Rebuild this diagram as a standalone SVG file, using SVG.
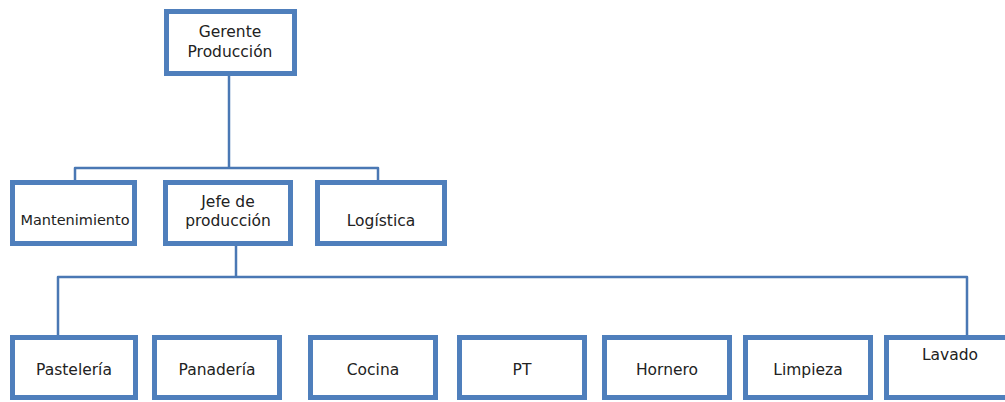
<svg xmlns="http://www.w3.org/2000/svg" width="1005" height="402" viewBox="0 0 1005 402">
  <style>
    .box { fill: #ffffff; stroke: #4f7fbc; stroke-width: 5; }
    .lbl { font-family: "DejaVu Sans", "Open Sans", sans-serif; font-size: 15.5px; fill: #222222; text-anchor: middle; }
    .conn { fill: none; stroke: #4a78b4; stroke-width: 2.5; stroke-linejoin: round; }
  </style>
  <rect width="1005" height="402" fill="#ffffff"/>

  <!-- connectors -->
  <g id="connectors">
    <path class="conn" d="M229 76 V168"/>
    <path class="conn" d="M75 180 V168 H378 V180"/>
    <path class="conn" d="M236 246 V277"/>
    <path class="conn" d="M58 335 V277 H967 V335"/>
  </g>

  <g id="gerente">
    <rect class="box" x="166.5" y="11.5" width="128" height="62"/>
    <text class="lbl" x="230" y="37">Gerente</text>
    <text class="lbl" x="230" y="57">Producción</text>
  </g>

  <g id="mantenimiento">
    <rect class="box" x="12.5" y="182.5" width="122" height="61"/>
    <text class="lbl" x="75" y="225" style="font-size:14.5px">Mantenimiento</text>
  </g>
  <g id="jefe">
    <rect class="box" x="165.5" y="182.5" width="125" height="61"/>
    <text class="lbl" x="228" y="207">Jefe de</text>
    <text class="lbl" x="228" y="226">producción</text>
  </g>
  <g id="logistica">
    <rect class="box" x="317.5" y="182.5" width="127" height="61"/>
    <text class="lbl" x="381" y="226">Logística</text>
  </g>

  <g id="pasteleria">
    <rect class="box" x="12.5" y="337.5" width="123" height="60"/>
    <text class="lbl" x="74" y="375">Pastelería</text>
  </g>
  <g id="panaderia">
    <rect class="box" x="154.5" y="337.5" width="125" height="60"/>
    <text class="lbl" x="217" y="375">Panadería</text>
  </g>
  <g id="cocina">
    <rect class="box" x="310.5" y="337.5" width="125" height="60"/>
    <text class="lbl" x="373" y="375">Cocina</text>
  </g>
  <g id="pt">
    <rect class="box" x="459.5" y="337.5" width="125" height="60"/>
    <text class="lbl" x="522" y="375">PT</text>
  </g>
  <g id="hornero">
    <rect class="box" x="604.5" y="337.5" width="125" height="60"/>
    <text class="lbl" x="667" y="375">Hornero</text>
  </g>
  <g id="limpieza">
    <rect class="box" x="745.5" y="337.5" width="125" height="60"/>
    <text class="lbl" x="808" y="375">Limpieza</text>
  </g>
  <g id="lavado">
    <rect class="box" x="886.5" y="337.5" width="128" height="60"/>
    <text class="lbl" x="950" y="360">Lavado</text>
  </g>
</svg>
